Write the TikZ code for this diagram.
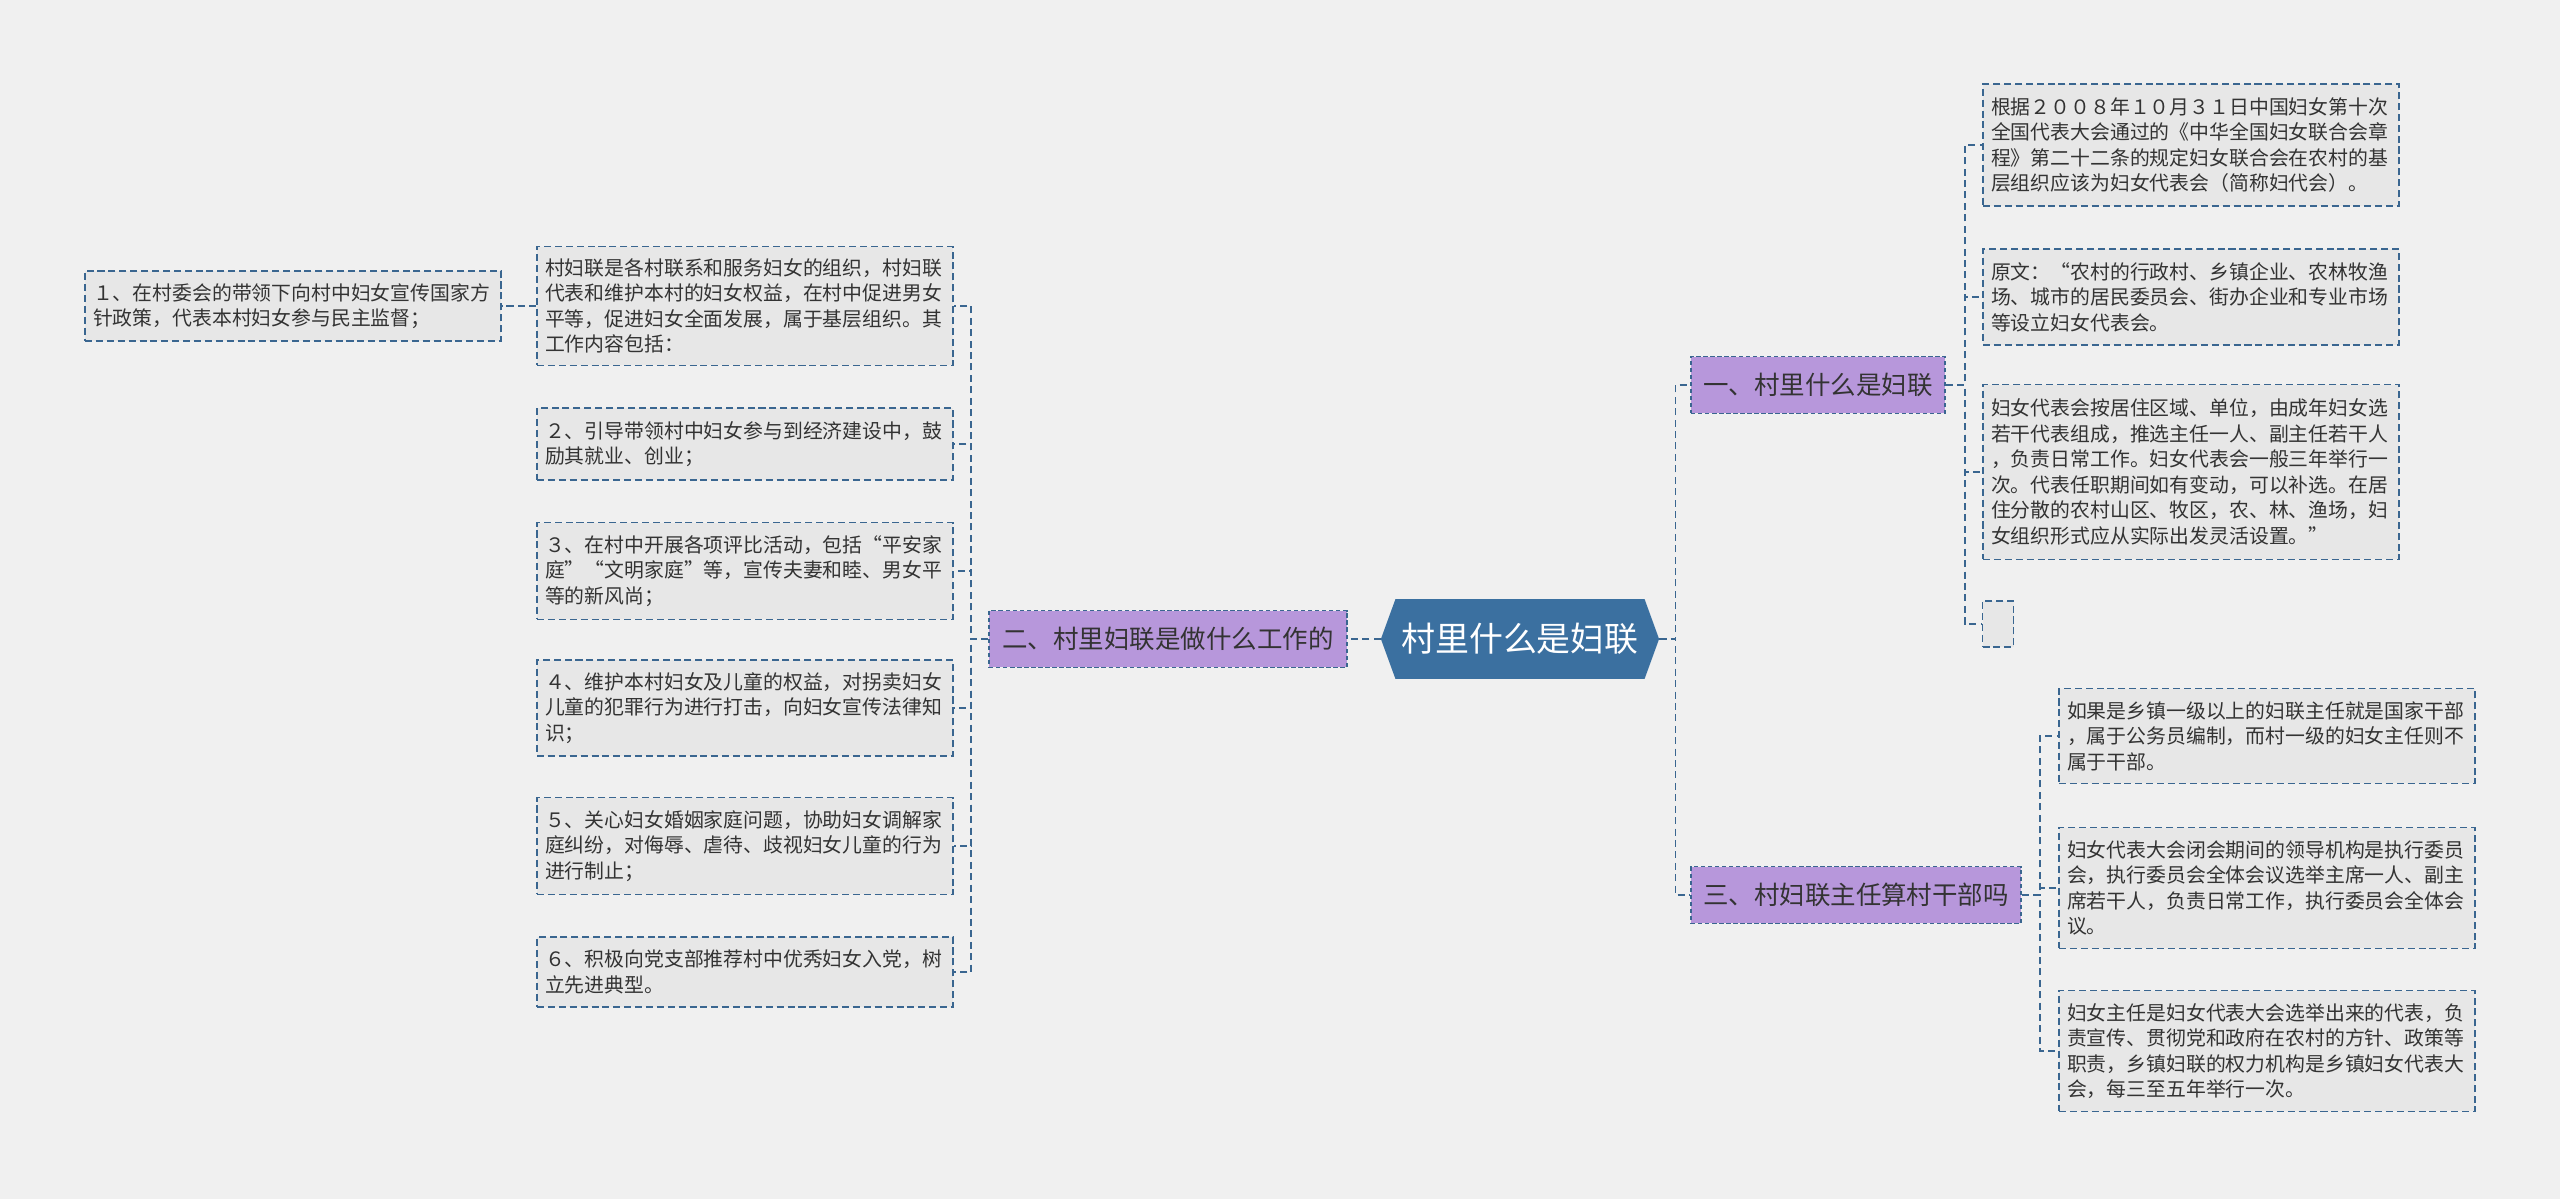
\documentclass[tikz,border=0pt]{standalone}
\usepackage{fontspec}
\setmainfont{Noto Sans CJK SC}
\usepackage{tikz}
\usetikzlibrary{shapes.symbols}
\definecolor{sbg}{HTML}{F0F0F0}
\definecolor{sline}{HTML}{3A6690}
\definecolor{sleaf}{HTML}{E7E7E7}
\definecolor{spurple}{HTML}{B797DB}
\definecolor{sroot}{HTML}{3B70A0}
\definecolor{stext}{HTML}{333333}
\tikzset{
  mleaf/.style={rectangle,fill=sleaf,draw=sline,line width=.8pt,dash pattern=on 4pt off 2.2pt,
    text=stext,font=\fontsize{11.3}{14.5}\selectfont,align=left,text width=8cm,
    inner xsep=.16cm,inner ysep=0pt},
  mbranch/.style={rectangle,fill=spurple,draw=sline,line width=.8pt,dash pattern=on 2.5pt off 1.5pt,
    text=stext,font=\fontsize{14.5}{17}\selectfont,minimum height=1.14cm},
  mroot/.style={signal,signal to=west and east,signal pointer angle=140,fill=sroot,text=white,
    font=\fontsize{19.3}{22}\selectfont,minimum width=5.44cm,minimum height=1.6cm},
  mlink/.style={draw=sline,line width=1pt,dash pattern=on 4pt off 2.5pt}
}

\begin{document}
\begin{tikzpicture}[x=.02cm,y=-.02cm]
  \fill[sbg] (0,0) rectangle (2560,1199);
  \useasboundingbox (0,0) rectangle (2560,1199);

  \node[mroot] (root) at (1520,639) {村里什么是妇联};
  \node[mbranch,minimum width=7.16cm] (work) at (1168,639) {二、村里妇联是做什么工作的};
  \node[mbranch,minimum width=5.08cm] (what) at (1818,385) {一、村里什么是妇联};
  \node[mbranch,minimum width=6.6cm] (cadre) at (1856,895) {三、村妇联主任算村干部吗};

  % left side
  \node[mleaf,minimum height=2.38cm] (w0) at (745,306)
    {村妇联是各村联系和服务妇女的组织，村妇联\\代表和维护本村的妇女权益，在村中促进男女\\平等，促进妇女全面发展，属于基层组织。其\\工作内容包括：};
  \node[mleaf,minimum height=1.4cm] (w1) at (293,306)
    {１、在村委会的带领下向村中妇女宣传国家方\\针政策，代表本村妇女参与民主监督；};
  \node[mleaf,minimum height=1.44cm] (w2) at (745,444)
    {２、引导带领村中妇女参与到经济建设中，鼓\\励其就业、创业；};
  \node[mleaf,minimum height=1.94cm] (w3) at (745,571)
    {３、在村中开展各项评比活动，包括“平安家\\庭”“文明家庭”等，宣传夫妻和睦、男女平\\等的新风尚；};
  \node[mleaf,minimum height=1.92cm] (w4) at (745,708)
    {４、维护本村妇女及儿童的权益，对拐卖妇女\\儿童的犯罪行为进行打击，向妇女宣传法律知\\识；};
  \node[mleaf,minimum height=1.94cm] (w5) at (745,846)
    {５、关心妇女婚姻家庭问题，协助妇女调解家\\庭纠纷，对侮辱、虐待、歧视妇女儿童的行为\\进行制止；};
  \node[mleaf,minimum height=1.4cm] (w6) at (745,972)
    {６、积极向党支部推荐村中优秀妇女入党，树\\立先进典型。};

  % right side, top
  \node[mleaf,minimum height=2.44cm] (a1) at (2191,145)
    {根据２００８年１０月３１日中国妇女第十次\\全国代表大会通过的《中华全国妇女联合会章\\程》第二十二条的规定妇女联合会在农村的基\\层组织应该为妇女代表会（简称妇代会）。};
  \node[mleaf,minimum height=1.92cm] (a2) at (2191,297)
    {原文：“农村的行政村、乡镇企业、农林牧渔\\场、城市的居民委员会、街办企业和专业市场\\等设立妇女代表会。};
  \node[mleaf,minimum height=3.5cm] (a3) at (2191,472)
    {妇女代表会按居住区域、单位，由成年妇女选\\若干代表组成，推选主任一人、副主任若干人\\，负责日常工作。妇女代表会一般三年举行一\\次。代表任职期间如有变动，可以补选。在居\\住分散的农村山区、牧区，农、林、渔场，妇\\女组织形式应从实际出发灵活设置。”};
  \node[mleaf,text width=0cm,inner xsep=0pt,minimum width=.62cm,minimum height=.92cm] (a4) at (1998,624) {};

  % right side, bottom
  \node[mleaf,minimum height=1.9cm] (c1) at (2267,736)
    {如果是乡镇一级以上的妇联主任就是国家干部\\，属于公务员编制，而村一级的妇女主任则不\\属于干部。};
  \node[mleaf,minimum height=2.42cm] (c2) at (2267,888)
    {妇女代表大会闭会期间的领导机构是执行委员\\会，执行委员会全体会议选举主席一人、副主\\席若干人，负责日常工作，执行委员会全体会\\议。};
  \node[mleaf,minimum height=2.42cm] (c3) at (2267,1051)
    {妇女主任是妇女代表大会选举出来的代表，负\\责宣传、贯彻党和政府在农村的方针、政策等\\职责，乡镇妇联的权力机构是乡镇妇女代表大\\会，每三至五年举行一次。};

  % links
  \draw[mlink] (root.west) -- (work.east);
  \draw[mlink] (root.east) -- ++(16,0) |- (what.west);
  \draw[mlink] (root.east) -- ++(16,0) |- (cadre.west);
  \foreach \n in {w0,w2,w3,w4,w5,w6}
    \draw[mlink] (work.west) -- ++(-17,0) |- (\n.east);
  \draw[mlink] (w0.west) -- (w1.east);
  \foreach \n in {a1,a2,a3,a4}
    \draw[mlink] (what.east) -- ++(19,0) |- (\n.west);
  \foreach \n in {c1,c2,c3}
    \draw[mlink] (cadre.east) -- ++(18,0) |- (\n.west);
\end{tikzpicture}
\end{document}
